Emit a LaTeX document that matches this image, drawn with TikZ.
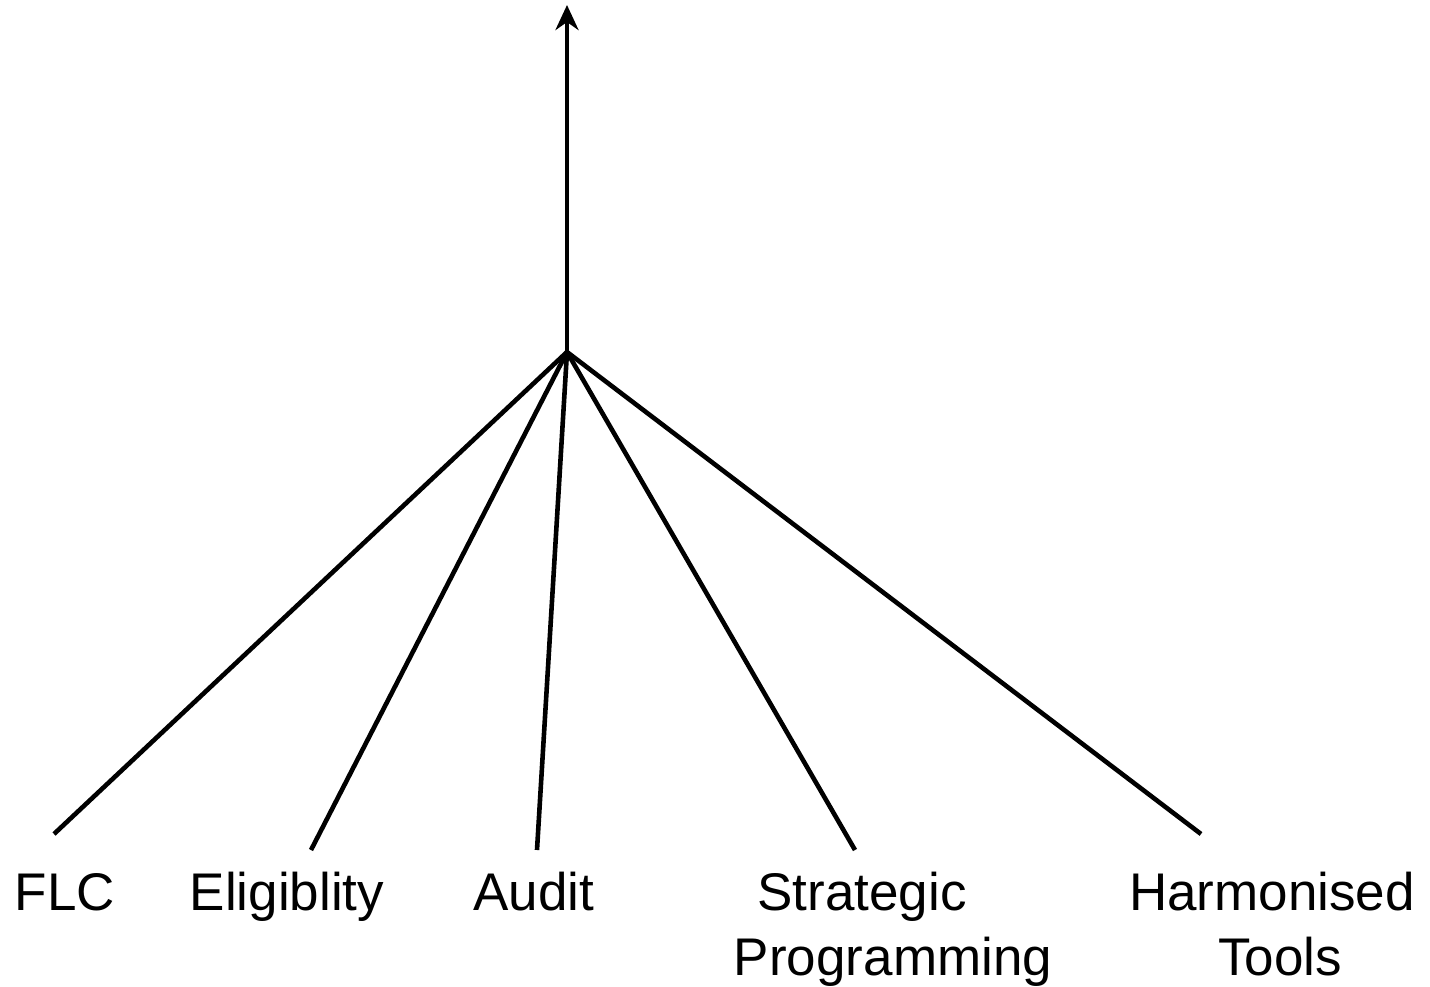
\documentclass[tikz,border=0pt]{standalone}
\usepackage{fontspec}
\setmainfont{Liberation Sans}
\usetikzlibrary{arrows.meta}
\begin{document}
\begin{tikzpicture}[x=0.5pt,y=-0.5pt,
  spoke/.style={line width=2.3pt},
  lbl/.style={font=\fontsize{26.5pt}{32pt}\selectfont, anchor=base, inner sep=0pt}]
\useasboundingbox (0,0) rectangle (1430,986);
\coordinate (hub) at (567,352);
\coordinate (top) at (567,5);
\coordinate (eFLC) at (54,834);
\coordinate (eElig) at (311,850);
\coordinate (eAudit) at (537,850);
\coordinate (eStrat) at (855,850);
\coordinate (eHarm) at (1201,834);
\draw[spoke,-{Stealth[length=12.5pt,width=11.5pt,inset=4pt]}] (hub) -- (top);
\draw[spoke] (hub) -- (eFLC);
\draw[spoke] (hub) -- (eElig);
\draw[spoke] (hub) -- (eAudit);
\draw[spoke] (hub) -- (eStrat);
\draw[spoke] (hub) -- (eHarm);
\node[lbl] (tFLC) at (65,910) {FLC};
\node[lbl] (tElig) at (287,910) {Eligiblity};
\node[lbl] (tAudit) at (534,910) {Audit};
\node[lbl] (tStrat) at (862,910) {Strategic};
\node[lbl] (tProg) at (893,975) {Programming};
\node[lbl] (tHarm) at (1272,910) {Harmonised};
\node[lbl] (tTools) at (1280,975) {Tools};
\end{tikzpicture}
\end{document}
